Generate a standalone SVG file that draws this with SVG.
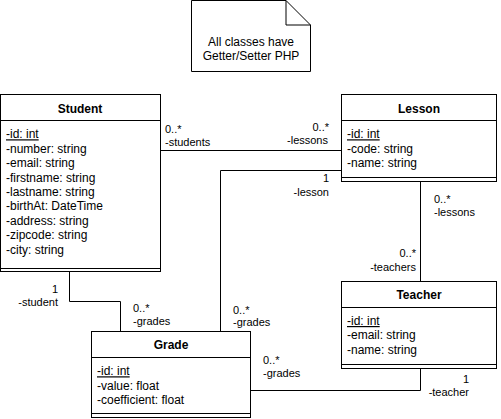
<svg xmlns="http://www.w3.org/2000/svg" width="501" height="419" viewBox="0 0 501 419">
<style>
.box{fill:#fff;stroke:#000;stroke-width:1}
.ln{fill:none;stroke:#000;stroke-width:1}
.t{font-family:"Liberation Sans",Arial,sans-serif;font-size:12px;fill:#000}
.b{font-weight:bold;text-anchor:middle}
.u{text-decoration:underline}
.l{font-family:"Liberation Sans",Arial,sans-serif;font-size:11px;fill:#000}
.e{text-anchor:end}
.c{text-anchor:middle}
</style>
<rect width="501" height="419" fill="#fff"/>
<g id="note">
<path class="box" d="M191.5,0.5 H286 L310.5,25 V71.5 H191.5 Z"/>
<path class="ln" d="M286,0.5 V25 H310.5"/>
<text class="t c" x="251" y="46">All classes have</text>
<text class="t c" x="251" y="60">Getter/Setter PHP</text>
</g>
<g id="connectors">
<path class="ln" d="M160,150.5 H341"/>
<path class="ln" d="M341,170.5 H220.5 V331"/>
<path class="ln" d="M69.5,272 V301.5 H120.5 V331"/>
<path class="ln" d="M420.5,181 V281"/>
<path class="ln" d="M420.5,368 V390.5 H251"/>
<text class="l" x="165" y="133">0..*</text>
<text class="l" x="165" y="145.5">-students</text>
<text class="l e" x="329" y="131">0..*</text>
<text class="l e" x="328" y="144">-lessons</text>
<text class="l e" x="329" y="182">1</text>
<text class="l e" x="329" y="196">-lesson</text>
<text class="l e" x="58" y="293">1</text>
<text class="l e" x="58" y="306">-student</text>
<text class="l" x="133" y="311.5">0..*</text>
<text class="l" x="133" y="324.5">-grades</text>
<text class="l" x="233" y="313.5">0..*</text>
<text class="l" x="233" y="326">-grades</text>
<text class="l" x="263" y="363.5">0..*</text>
<text class="l" x="263" y="376.5">-grades</text>
<text class="l e" x="469" y="382.5">1</text>
<text class="l e" x="469" y="396">-teacher</text>
<text class="l" x="434" y="203">0..*</text>
<text class="l" x="434" y="215.5">-lessons</text>
<text class="l e" x="416" y="257">0..*</text>
<text class="l e" x="416" y="270.5">-teachers</text>
</g>
<g id="student">
<rect class="box" x="0.5" y="94.5" width="160" height="177"/>
<path class="ln" d="M0.5,120.5 H160.5 M0.5,268.5 H160.5"/>
<text class="t b" x="80" y="112.5">Student</text>
<text class="t u" x="6" y="138.3">-id: int</text>
<text class="t" x="6" y="152.7">-number: string</text>
<text class="t" x="6" y="167.1">-email: string</text>
<text class="t" x="6" y="181.5">-firstname: string</text>
<text class="t" x="6" y="195.9">-lastname: string</text>
<text class="t" x="6" y="210.3">-birthAt: DateTime</text>
<text class="t" x="6" y="224.7">-address: string</text>
<text class="t" x="6" y="239.1">-zipcode: string</text>
<text class="t" x="6" y="253.5">-city: string</text>
</g>
<g id="lesson">
<rect class="box" x="341.5" y="94.5" width="155" height="87"/>
<path class="ln" d="M341.5,120.5 H496.5 M341.5,177.5 H496.5"/>
<text class="t b" x="419" y="112.5">Lesson</text>
<text class="t u" x="347" y="138.3">-id: int</text>
<text class="t" x="347" y="152.7">-code: string</text>
<text class="t" x="347" y="167.1">-name: string</text>
</g>
<g id="teacher">
<rect class="box" x="341.5" y="281.5" width="155" height="87"/>
<path class="ln" d="M341.5,307.5 H496.5 M341.5,364.5 H496.5"/>
<text class="t b" x="419" y="299">Teacher</text>
<text class="t u" x="347" y="325">-id: int</text>
<text class="t" x="347" y="339.4">-email: string</text>
<text class="t" x="347" y="353.8">-name: string</text>
</g>
<g id="grade">
<rect class="box" x="91.5" y="331.5" width="159" height="86"/>
<path class="ln" d="M91.5,357.5 H250.5 M91.5,413.5 H250.5"/>
<text class="t b" x="171" y="349">Grade</text>
<text class="t u" x="97" y="375.3">-id: int</text>
<text class="t" x="97" y="389.7">-value: float</text>
<text class="t" x="97" y="404.1">-coefficient: float</text>
</g>
</svg>
